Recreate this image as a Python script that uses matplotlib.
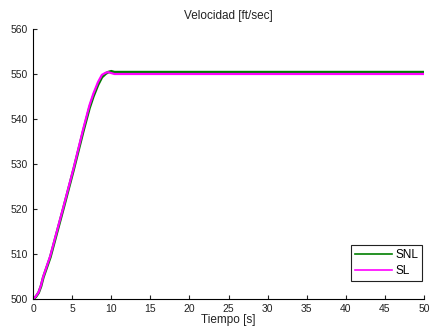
import numpy as np
import matplotlib.pyplot as plt

plt.rcParams['font.family'] = ['Liberation Sans', 'DejaVu Sans']

# tiempo [s]
t = [0, 0.35, 0.7, 1.0, 1.3, 2.2, 3.9, 5.2, 6.4, 7.2, 7.7, 8.3, 8.8, 9.3, 9.6, 10.0, 10.4, 11, 50]
# velocidad no lineal
v_snl = [500, 500.5, 501.4, 502.8, 504.8, 509.3, 520.3, 528.9, 537.2, 542.4,
         545.0, 547.6, 549.3, 550.1, 550.4, 550.6, 550.4, 550.4, 550.4]
# velocidad lineal
v_sl = [500, 500.6, 501.5, 503.0, 505.0, 509.6, 520.6, 529.2, 537.7, 543.0,
        545.6, 548.2, 549.8, 550.3, 550.4, 550.2, 550.0, 550.0, 550.0]

fig = plt.figure(figsize=(4.3, 3.32), dpi=100)
ax = fig.add_axes([0.077, 0.0994, 0.909, 0.8133])

ax.plot(t, v_snl, color='#007f00', lw=2.0, label='SNL')
ax.plot(t, v_sl, color='#ff00ff', lw=1.6, label='SL')

ax.set_xlim(0, 50)
ax.set_ylim(500, 560)
ax.set_xticks(np.arange(0, 51, 5))
ax.set_yticks(np.arange(500, 561, 10))
ax.spines['top'].set_visible(False)
ax.spines['right'].set_visible(False)
ax.tick_params(direction='in', length=3, labelsize=7.5, colors='#222222')
ax.set_title('Velocidad [ft/sec]', fontsize=8.5, pad=7, color='#222222')
ax.set_xlabel('Tiempo [s]', fontsize=8.5, labelpad=0, color='#222222')

leg = ax.legend(loc='lower right', bbox_to_anchor=(0.995, 0.067), fontsize=8.5,
                fancybox=False, framealpha=1, edgecolor='#222222',
                handlelength=3.1, borderpad=0.35, labelspacing=0.35,
                handletextpad=0.25, borderaxespad=0)
leg.get_frame().set_linewidth(0.8)
for line in leg.get_lines():
    line.set_linewidth(1.2)

fig.savefig('out.png', dpi=100)
